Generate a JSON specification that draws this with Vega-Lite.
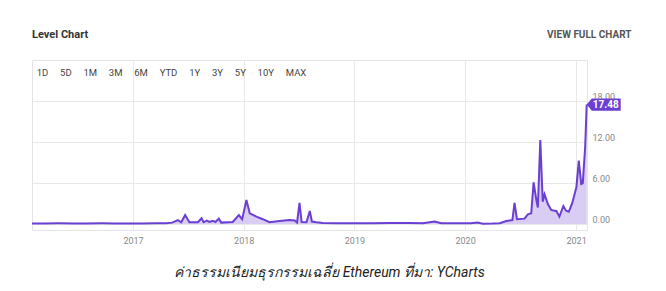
{
  "$schema": "https://vega.github.io/schema/vega-lite/v6.json",
  "width": 555,
  "height": 170,
  "autosize": "none",
  "padding": {"left": 32, "top": 60, "right": 79, "bottom": 61},
  "background": "white",
  "config": {
    "view": {"stroke": "#e4e4e4", "strokeWidth": 1},
    "font": "Roboto"
  },
  "title": {
    "text": "Level Chart",
    "subtitle": "\u200b\u00a0\u00a01D\u00a0\u00a0\u00a0\u00a0\u00a05D\u00a0\u00a0\u00a0\u00a0\u00a01M\u00a0\u00a0\u00a0\u00a0\u00a03M\u00a0\u00a0\u00a0\u00a0\u00a06M\u00a0\u00a0\u00a0\u00a0\u00a0YTD\u00a0\u00a0\u00a0\u00a0\u00a01Y\u00a0\u00a0\u00a0\u00a0\u00a03Y\u00a0\u00a0\u00a0\u00a0\u00a05Y\u00a0\u00a0\u00a0\u00a0\u00a010Y\u00a0\u00a0\u00a0\u00a0\u00a0MAX",
    "anchor": "start",
    "frame": "group",
    "offset": -48,
    "font": "Liberation Sans Narrow, Roboto",
    "fontSize": 11,
    "fontWeight": "bold",
    "color": "#333333",
    "subtitleFont": "Liberation Sans Narrow, Roboto",
    "subtitleFontSize": 9.5,
    "subtitleColor": "#444444",
    "subtitlePadding": 28
  },
  "data": {
    "values": [
      {"date": "2016-02-03", "value": 0.08},
      {"date": "2016-03-15", "value": 0.07},
      {"date": "2016-05-01", "value": 0.09},
      {"date": "2016-06-20", "value": 0.08},
      {"date": "2016-08-01", "value": 0.07},
      {"date": "2016-09-20", "value": 0.09},
      {"date": "2016-11-01", "value": 0.08},
      {"date": "2016-12-15", "value": 0.07},
      {"date": "2017-02-01", "value": 0.08},
      {"date": "2017-03-15", "value": 0.09},
      {"date": "2017-04-20", "value": 0.12},
      {"date": "2017-05-10", "value": 0.2},
      {"date": "2017-05-29", "value": 0.58},
      {"date": "2017-06-09", "value": 0.25},
      {"date": "2017-06-22", "value": 1.32},
      {"date": "2017-07-06", "value": 0.25},
      {"date": "2017-08-03", "value": 0.25},
      {"date": "2017-08-15", "value": 0.83},
      {"date": "2017-08-22", "value": 0.25},
      {"date": "2017-09-01", "value": 0.48},
      {"date": "2017-09-10", "value": 0.3},
      {"date": "2017-09-21", "value": 0.48},
      {"date": "2017-09-30", "value": 0.3},
      {"date": "2017-10-11", "value": 0.78},
      {"date": "2017-10-19", "value": 0.2},
      {"date": "2017-11-26", "value": 0.3},
      {"date": "2017-12-16", "value": 1.3},
      {"date": "2017-12-27", "value": 0.7},
      {"date": "2018-01-10", "value": 3.5},
      {"date": "2018-01-21", "value": 1.56},
      {"date": "2018-02-12", "value": 1.07},
      {"date": "2018-03-05", "value": 0.7},
      {"date": "2018-03-27", "value": 0.25},
      {"date": "2018-04-29", "value": 0.44},
      {"date": "2018-06-01", "value": 0.58},
      {"date": "2018-06-18", "value": 0.5},
      {"date": "2018-06-26", "value": 0.2},
      {"date": "2018-07-04", "value": 3.1},
      {"date": "2018-07-11", "value": 0.3},
      {"date": "2018-07-27", "value": 0.25},
      {"date": "2018-08-07", "value": 1.9},
      {"date": "2018-08-14", "value": 0.35},
      {"date": "2018-08-29", "value": 0.25},
      {"date": "2018-09-19", "value": 0.15},
      {"date": "2018-11-01", "value": 0.12},
      {"date": "2019-01-01", "value": 0.1},
      {"date": "2019-03-01", "value": 0.12},
      {"date": "2019-05-01", "value": 0.14},
      {"date": "2019-07-01", "value": 0.16},
      {"date": "2019-08-15", "value": 0.12},
      {"date": "2019-09-22", "value": 0.35},
      {"date": "2019-10-15", "value": 0.12},
      {"date": "2019-12-15", "value": 0.1},
      {"date": "2020-01-20", "value": 0.12},
      {"date": "2020-02-12", "value": 0.22},
      {"date": "2020-02-28", "value": 0.03},
      {"date": "2020-04-01", "value": 0.06},
      {"date": "2020-04-24", "value": 0.12},
      {"date": "2020-05-16", "value": 0.44},
      {"date": "2020-06-05", "value": 0.58},
      {"date": "2020-06-12", "value": 3.1},
      {"date": "2020-06-20", "value": 0.7},
      {"date": "2020-07-15", "value": 0.78},
      {"date": "2020-07-26", "value": 1.4},
      {"date": "2020-08-06", "value": 1.56},
      {"date": "2020-08-14", "value": 6.1},
      {"date": "2020-08-23", "value": 3.5},
      {"date": "2020-08-28", "value": 2.4},
      {"date": "2020-09-05", "value": 12.3},
      {"date": "2020-09-13", "value": 3.27},
      {"date": "2020-09-19", "value": 4.35},
      {"date": "2020-09-30", "value": 2.93},
      {"date": "2020-10-11", "value": 2.05},
      {"date": "2020-10-22", "value": 1.95},
      {"date": "2020-10-28", "value": 1.9},
      {"date": "2020-11-07", "value": 1.07},
      {"date": "2020-11-20", "value": 2.63},
      {"date": "2020-11-29", "value": 1.95},
      {"date": "2020-12-08", "value": 1.8},
      {"date": "2020-12-19", "value": 3.0},
      {"date": "2021-01-02", "value": 5.37},
      {"date": "2021-01-10", "value": 9.26},
      {"date": "2021-01-18", "value": 5.85},
      {"date": "2021-01-23", "value": 5.96},
      {"date": "2021-01-31", "value": 11.3},
      {"date": "2021-02-05", "value": 17.48}
    ]
  },
  "encoding": {
    "x": {
      "field": "date",
      "type": "temporal",
      "scale": {"domain": [{"year": 2016, "month": 2, "date": 3}, {"year": 2021, "month": 2, "date": 6}]},
      "axis": {
        "title": "ค่าธรรมเนียมธุรกรรมเฉลี่ย Ethereum  ที่มา: YCharts",
        "format": "%Y",
        "tickCount": {"interval": "year", "step": 1},
        "grid": true,
        "gridColor": "#e8e8e8",
        "ticks": false,
        "domain": false,
        "labelFlush": false,
        "labelColor": "#888888",
        "labelFontSize": 9,
        "labelPadding": 6,
        "titleX": 297,
        "titleY": 46,
        "titleAlign": "center",
        "titleBaseline": "alphabetic",
        "titleFontStyle": "italic",
        "titleFontWeight": "normal",
        "titleFontSize": 14,
        "titleColor": "#222222"
      }
    },
    "y": {
      "field": "value",
      "type": "quantitative",
      "scale": {"domain": [-0.88, 24], "nice": false, "zero": false},
      "axis": {
        "orient": "right",
        "values": [0, 6, 12, 18],
        "format": ".2f",
        "grid": true,
        "gridColor": "#e8e8e8",
        "ticks": false,
        "domain": false,
        "labelAlign": "left",
        "labelBaseline": "alphabetic",
        "labelOffset": -1,
        "labelPadding": 5,
        "labelColor": "#888888",
        "labelFontSize": 9,
        "title": "VIEW FULL CHART",
        "titleAngle": 0,
        "titleX": 44,
        "titleY": -23,
        "titleAlign": "right",
        "titleBaseline": "alphabetic",
        "titleFont": "Liberation Sans Narrow, Roboto",
        "titleFontSize": 10,
        "titleFontWeight": "bold",
        "titleColor": "#555555"
      }
    }
  },
  "layer": [
    {
      "mark": {"type": "area", "color": "#d9cdf3", "opacity": 1},
      "encoding": {"y2": {"value": "height"}}
    },
    {
      "mark": {"type": "line", "color": "#6a3fd1", "strokeWidth": 2}
    },
    {
      "transform": [{"filter": "datum.value == 17.48"}],
      "mark": {"type": "point", "shape": "M0,0L0.15,-0.18L1,-0.18L1,0.18L0.15,0.18Z", "filled": true, "color": "#6a3fd1", "opacity": 1, "size": 4624}
    },
    {
      "transform": [{"filter": "datum.value == 17.48"}],
      "mark": {"type": "text", "color": "white", "fontWeight": "bold", "fontSize": 10, "dx": 19, "align": "center", "baseline": "middle"},
      "encoding": {"text": {"field": "value", "type": "quantitative", "format": ".2f"}}
    }
  ]
}
